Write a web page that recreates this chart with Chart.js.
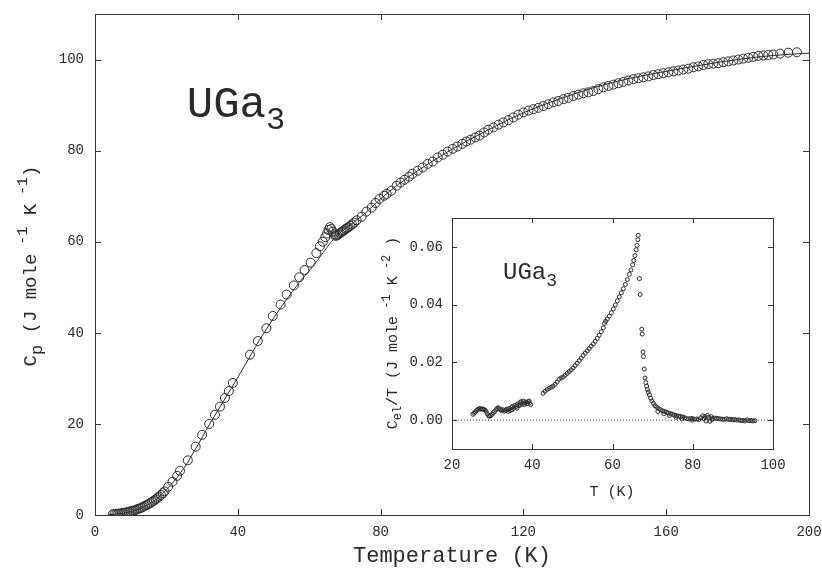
<!DOCTYPE html>
<html>
<head>
<meta charset="utf-8">
<script src="https://cdn.jsdelivr.net/npm/chart.js@4.4.1/dist/chart.umd.min.js"></script>
<style>
  html, body { margin: 0; padding: 0; background: #fff; }
  #wrap { position: relative; width: 822px; height: 573px; }
  #mainChart { position: absolute; left: 0; top: 0; }
  #insetChart { position: absolute; left: 380px; top: 200px; }
</style>
</head>
<body>
<div id="wrap">
  <canvas id="mainChart" width="822" height="573"></canvas>
  <canvas id="insetChart" width="410" height="300"></canvas>
</div>
<script>
// Main panel: Cp(T) of UGa3, open circles = data, solid line = lattice fit
const mainT = [5,5.5,6,6.5,7,7.5,8,8.5,9,9.5,10,10.5,11,11.5,12,12.5,13,13.5,14,14.5,15,15.5,16,16.5,17,17.5,18,18.5,19,19.5,
  20.5,21.7,23,23.8,26,28.2,30,32,33.6,35,36.4,37.5,38.6,43.4,45.6,48,49.8,52,53.7,55.7,57.2,58.7,60.4,62,63,63.8,64.5,65,65.4,65.8,
  66.2,66.6,67,67.4,67.8,68.2,68.6,69,69.4,69.8,70.2,70.6,71,71.5,72,72.6,73.3,74.7,76,77.5,78.6,79.7,81,81.7,83,84.5,85.6,86.7,88,88.9,
  90.4,91.8,93.2,94.6,96,97.4,98.8,100.2,101.5,102.9,104,105.2,106.5,107.7,109,110.2,111.6,113,114.4,115.8,117.2,118.6,120,121.4,122.8,124.2,
  125.6,127,128.4,129.8,131.2,132.6,134,135.4,136.8,138.2,139.6,141,142.4,143.8,145.2,146.6,148,149.4,150.8,152.2,153.6,155,156.4,157.8,159.2,
  160.6,162,163.4,164.8,166.2,167.6,169,170.4,171.8,173.2,174.6,176,177.4,178.8,180.2,181.6,183,184.4,185.8,187.2,188.6,190,191.9,194.2,196.6];
const mainC = [0.15,0.18,0.22,0.27,0.32,0.38,0.45,0.52,0.6,0.7,0.8,0.9,1.0,1.15,1.3,1.45,1.6,1.8,2.0,2.2,2.4,2.65,2.9,3.15,3.45,3.75,4.05,4.4,4.8,5.2,
  6.2,7.3,8.6,9.7,12,15,17.6,20,22,23.8,25.7,27.2,29,35.2,38.2,41,43.7,46.2,48.4,50.4,52.2,53.8,55.4,57.5,59,60,61,61.8,62.6,63.2,
  62.8,62.2,61.6,61.3,61.4,61.6,61.9,62.1,62.3,62.5,62.8,63,63.2,63.5,63.8,64.2,64.7,65.5,66.6,67.5,68.5,69.4,70.1,70.5,71.2,72.3,73,73.6,74.3,74.9,
  75.6,76.3,77.1,77.6,78.5,79.1,79.8,80.4,80.9,81.5,82,82.4,82.9,83.3,84,84.6,85.1,85.7,86.2,86.7,87.3,87.9,88.4,88.8,89.1,89.4,
  89.8,90.2,90.6,90.9,91.3,91.6,92,92.3,92.6,92.8,93.1,93.5,93.9,94.2,94.5,94.8,95.1,95.4,95.7,95.9,96.1,96.3,96.6,96.8,97,
  97.2,97.4,97.6,97.8,98,98.3,98.5,98.8,99,99.1,99.2,99.4,99.6,99.8,100,100.2,100.4,100.6,100.8,100.9,101,101.1,101.3,101.5,101.6];
const fitT = [4,6,8,10,12,14,16,18,20,22,24,26,28,30,32,34,36,38,40,42,44,46,48,50,52,54,56,58,60,62,64,66,68,70,75,80,85,90,95,100,110,120,130,140,150,160,170,180,190,200];
const fitC = [0.1,0.2,0.4,0.75,1.2,1.85,2.8,4.0,5.6,7.3,9.3,11.6,14.3,17.0,19.8,22.4,25.0,27.6,30.2,32.9,35.6,38.3,40.8,43.2,45.5,47.7,49.8,51.8,53.6,55.6,57.7,59.8,61.5,62.8,65.8,69.4,72.6,75.4,77.9,80.3,84.5,88.3,91.3,93.9,95.9,97.4,98.8,100.0,100.9,101.4];
const mainXTicks = [0,40,80,120,160,200];
const mainYTicks = [0,20,40,60,80,100];

// Inset: Cel/T vs T
const inT = [25.2,25.5,25.8,26.1,26.4,26.7,27.0,27.3,27.6,27.9,28.2,28.5,28.8,29.1,29.4,29.7,30.0,30.3,30.6,30.9,31.2,31.5,31.8,32.1,32.4,32.7,33.0,33.3,33.6,33.9,
  34.2,34.5,34.8,35.1,35.4,35.7,36.0,36.3,36.6,36.9,37.2,37.5,37.8,38.1,38.4,38.7,39.0,39.3,39.6,34.0,35.0,36.2,37.0,38.0,39.2,
  42.7,43.2,43.7,44.2,44.7,45.2,45.7,46.2,46.7,47.2,47.7,48.2,48.7,49.2,49.7,50.2,50.7,51.2,51.7,52.2,52.7,53.2,53.7,54.2,54.7,55.2,55.7,56.2,56.7,57.2,
  57.7,58.0,58.3,58.7,59.2,59.7,60.2,60.7,61.2,61.7,62.2,62.7,63.2,63.7,64.2,64.6,65.0,65.3,65.6,65.9,66.1,66.3,66.4,
  66.7,66.9,67.3,67.4,67.6,67.7,67.9,68.1,68.3,68.5,68.7,68.9,69.2,69.5,69.8,70.2,70.6,71.0,71.5,72.0,72.5,73.0,73.5,74.0,74.5,75.0,75.5,76.0,76.5,77.0,
  77.5,78.0,78.5,79.0,79.5,80.0,80.5,81.0,81.5,82.0,82.5,83.0,83.3,83.6,84.0,84.3,84.6,85.0,85.5,86.0,86.5,87.0,87.5,88.0,88.5,89.0,89.5,90.0,90.5,91.0,
  91.5,92.0,92.5,93.0,93.5,94.0,94.5,95.0,95.5,71.3,72.8,74.2,75.8,77.3,79.8,82.8,84.8];
const inV = [0.0020,0.0024,0.0028,0.0033,0.0036,0.0039,0.0040,0.0038,0.0039,0.0037,0.0035,0.0030,0.0022,0.0015,0.0013,0.0016,0.0020,0.0026,0.0030,0.0035,0.0040,0.0043,0.0040,0.0036,0.0033,0.0036,0.0031,0.0034,0.0038,0.0036,
  0.0040,0.0033,0.0044,0.0048,0.0042,0.0051,0.0047,0.0055,0.0050,0.0060,0.0064,0.0056,0.0066,0.0060,0.0063,0.0057,0.0064,0.0059,0.0054,0.0030,0.0036,0.0041,0.0052,0.0054,0.0066,
  0.0093,0.0100,0.0106,0.0110,0.0114,0.0118,0.0124,0.0132,0.0142,0.0146,0.0150,0.0156,0.0162,0.0168,0.0174,0.0181,0.0189,0.0197,0.0206,0.0215,0.0224,0.0232,0.0240,0.0248,0.0256,0.0264,0.0273,0.0283,0.0294,0.0306,
  0.0320,0.0335,0.0342,0.0350,0.0360,0.0372,0.0385,0.0399,0.0413,0.0427,0.0441,0.0455,0.0470,0.0487,0.0505,0.0520,0.0538,0.0553,0.0570,0.0590,0.0605,0.0625,0.0640,
  0.0490,0.0435,0.0315,0.0298,0.0236,0.0220,0.0177,0.0146,0.0130,0.0118,0.0106,0.0097,0.0088,0.0076,0.0066,0.0058,0.0050,0.0045,0.0040,0.0036,0.0032,0.0030,0.0027,0.0025,0.0022,0.0020,0.0017,0.0015,0.0014,0.0012,
  0.0011,0.0008,0.0005,0.0004,0.0006,0.0005,0.0003,0.0004,0.0002,0.0008,0.0015,0.0012,-0.0003,0.0016,0.0010,-0.0004,0.0012,0.0006,0.0007,0.0006,0.0005,0.0004,0.0003,0.0003,0.0005,0.0002,0.0003,0.0001,0.0002,0.0000,
  0.0001,-0.0002,-0.0001,-0.0003,0.0001,-0.0002,-0.0001,-0.0003,-0.0002,0.0030,0.0022,0.0016,0.0010,0.0004,0.0000,0.0005,0.0002];
const zeroT = [20,100];
const zeroV = [0,0];
const inXTicks = [20,40,60,80,100];
const inYTicks = [0,0.02,0.04,0.06];

const INK = '#2a2a2a';
const FONT = '"Liberation Mono", "DejaVu Sans Mono", monospace';

function pts(xs, ys) { return xs.map((x, i) => ({ x: x, y: ys[i] })); }

// draw text made of runs (sub/superscripts), optionally rotated
function richText(ctx, cx, cy, runs, size, rotate) {
  ctx.save();
  ctx.translate(cx, cy);
  if (rotate) ctx.rotate(-Math.PI / 2);
  ctx.fillStyle = INK;
  ctx.textBaseline = 'alphabetic';
  ctx.textAlign = 'left';
  let w = 0;
  runs.forEach(r => { ctx.font = (r.s || size) + 'px ' + FONT; w += ctx.measureText(r.t).width; });
  let x = -w / 2;
  runs.forEach(r => {
    ctx.font = (r.s || size) + 'px ' + FONT;
    ctx.fillText(r.t, x, r.dy || 0);
    x += ctx.measureText(r.t).width;
  });
  ctx.restore();
}

// frame + inward ticks on all four sides
function framePlugin(len, extra) {
  return {
    id: 'frame',
    afterDatasetsDraw(chart) {
      const ctx = chart.ctx, a = chart.chartArea;
      const xs = chart.scales.x, ys = chart.scales.y;
      ctx.save();
      ctx.strokeStyle = '#333';
      ctx.lineWidth = 1;
      ctx.strokeRect(Math.round(a.left) + 0.5, Math.round(a.top) + 0.5, Math.round(a.right - a.left), Math.round(a.bottom - a.top));
      ctx.beginPath();
      xs.ticks.forEach(t => {
        const px = Math.round(xs.getPixelForValue(t.value)) + 0.5;
        ctx.moveTo(px, a.bottom); ctx.lineTo(px, a.bottom - len);
        ctx.moveTo(px, a.top); ctx.lineTo(px, a.top + len);
      });
      ys.ticks.forEach(t => {
        const py = Math.round(ys.getPixelForValue(t.value)) + 0.5;
        ctx.moveTo(a.left, py); ctx.lineTo(a.left + len, py);
        ctx.moveTo(a.right, py); ctx.lineTo(a.right - len, py);
      });
      ctx.stroke();
      ctx.restore();
      if (extra) extra(chart);
    }
  };
}

function fixedTicks(list) {
  return function(scale) { scale.ticks = list.map(v => ({ value: v })); };
}
// fixed axis box, no label overhang padding
function fitX(h) { return function(s) { s.height = h; s.paddingLeft = 0; s.paddingRight = 0; }; }
function fitY(w) { return function(s) { s.width = w; s.paddingTop = 0; s.paddingBottom = 0; }; }

new Chart(document.getElementById('mainChart'), {
  type: 'scatter',
  data: {
    datasets: [
      { data: pts(fitT, fitC), showLine: true, borderColor: INK, borderWidth: 1, pointRadius: 0, cubicInterpolationMode: 'monotone', order: 2 },
      { data: pts(mainT, mainC), showLine: false, pointRadius: 4.5, pointBorderWidth: 1, pointBorderColor: INK, pointBackgroundColor: 'rgba(0,0,0,0)', order: 1 }
    ]
  },
  options: {
    responsive: false, animation: false, devicePixelRatio: 1,
    layout: { padding: { top: 14, right: 13, left: 0, bottom: 0 } },
    plugins: { legend: { display: false }, tooltip: { enabled: false } },
    scales: {
      x: { type: 'linear', min: 0, max: 200, afterBuildTicks: fixedTicks(mainXTicks), afterFit: fitX(58),
        grid: { display: false, drawTicks: false }, border: { display: false },
        ticks: { padding: 9, color: INK, font: { family: FONT, size: 14 } } },
      y: { type: 'linear', min: 0, max: 110, afterBuildTicks: fixedTicks(mainYTicks), afterFit: fitY(95),
        grid: { display: false, drawTicks: false }, border: { display: false },
        ticks: { padding: 11, color: INK, font: { family: FONT, size: 14 } } }
    }
  },
  plugins: [framePlugin(6, function(chart) {
    const ctx = chart.ctx;
    richText(ctx, 452, 562, [{ t: 'Temperature (K)' }], 22, false);
    richText(ctx, 36, 266, [{ t: 'C' }, { t: 'p', s: 17, dy: 6 }, { t: ' (J mole' }, { t: ' -1', s: 15, dy: -9 }, { t: ' K' }, { t: ' -1', s: 15, dy: -9 }, { t: ')' }], 19, true);
    richText(ctx, 236, 117, [{ t: 'UGa' }, { t: '3', s: 32, dy: 12 }], 44, false);
  })]
});

new Chart(document.getElementById('insetChart'), {
  type: 'scatter',
  data: {
    datasets: [
      { data: pts(zeroT, zeroV), showLine: true, borderColor: '#444', borderWidth: 1, borderDash: [1, 2], pointRadius: 0, order: 2 },
      { data: pts(inT, inV), showLine: false, pointRadius: 2, pointBorderWidth: 1, pointBorderColor: INK, pointBackgroundColor: 'rgba(0,0,0,0)', order: 1 }
    ]
  },
  options: {
    responsive: false, animation: false, devicePixelRatio: 1,
    layout: { padding: { top: 18, right: 17, left: 0, bottom: 0 } },
    plugins: { legend: { display: false }, tooltip: { enabled: false } },
    scales: {
      x: { type: 'linear', min: 20, max: 100, afterBuildTicks: fixedTicks(inXTicks), afterFit: fitX(51),
        grid: { display: false, drawTicks: false }, border: { display: false },
        ticks: { padding: 8, color: INK, font: { family: FONT, size: 14 } } },
      y: { type: 'linear', min: -0.01, max: 0.07, afterBuildTicks: fixedTicks(inYTicks), afterFit: fitY(72),
        grid: { display: false, drawTicks: false }, border: { display: false },
        ticks: { padding: 9, color: INK, font: { family: FONT, size: 14 }, callback: v => v.toFixed(2) } }
    }
  },
  plugins: [framePlugin(5, function(chart) {
    const ctx = chart.ctx;
    richText(ctx, 232, 296, [{ t: 'T (K)' }], 15, false);
    richText(ctx, 17, 133, [{ t: 'C' }, { t: 'el', s: 12, dy: 4 }, { t: '/T (J mole' }, { t: ' -1', s: 12, dy: -7 }, { t: ' K' }, { t: ' -2', s: 12, dy: -7 }, { t: ' )' }], 15, true);
    richText(ctx, 150, 79, [{ t: 'UGa' }, { t: '3', s: 18, dy: 7 }], 24, false);
  })]
});
</script>
</body>
</html>
